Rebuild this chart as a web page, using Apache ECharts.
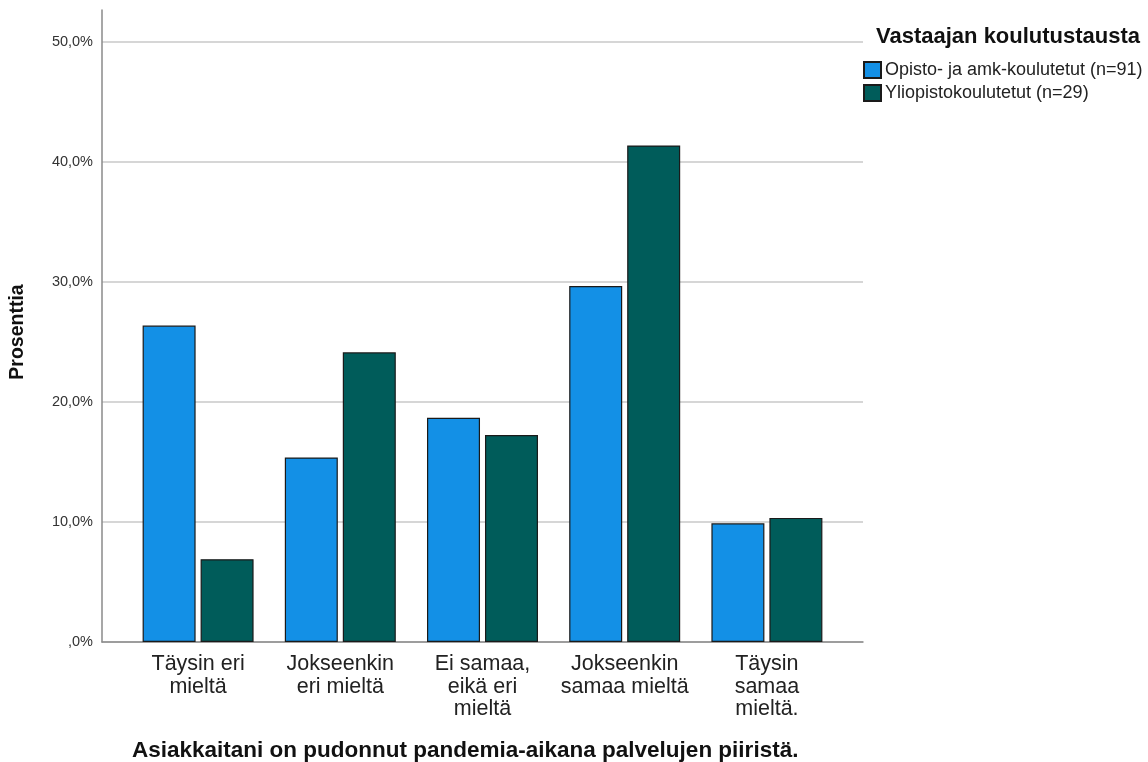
<!DOCTYPE html>
<html>
<head>
<meta charset="utf-8">
<script src="https://cdn.jsdelivr.net/npm/echarts@6/dist/echarts.min.js"></script>
<style>
html,body{margin:0;padding:0;background:#fff;}
#chart{width:1148px;height:762px;}
</style>
</head>
<body>
<div id="chart"></div>
<script>
const categories = ["Täysin eri\nmieltä", "Jokseenkin\neri mieltä", "Ei samaa,\neikä eri\nmieltä", "Jokseenkin\nsamaa mieltä", "Täysin\nsamaa\nmieltä."];
const seriesNames = ["Opisto- ja amk-koulutetut (n=91)", "Yliopistokoulutetut (n=29)"];
const opistoValues = [26.37, 15.38, 18.68, 29.67, 9.89];
const yliopistoValues = [6.90, 24.14, 17.24, 41.38, 10.34];
const yTicks = [0, 10, 20, 30, 40, 50];
const legendTitle = "Vastaajan koulutustausta";
const xTitle = "Asiakkaitani on pudonnut pandemia-aikana palvelujen piiristä.";
const yTitle = "Prosenttia";

const FONT = "'Liberation Sans', Arial, sans-serif";
const Y_MAX = 632 / 12;

function fmt(v) {
  if (v === 0) return ",0%";
  return v.toFixed(1).replace(".", ",") + "%";
}

const chart = echarts.init(document.getElementById('chart'), null, {renderer: 'canvas'});
chart.setOption({
  animation: false,
  backgroundColor: '#ffffff',
  textStyle: {fontFamily: FONT},
  title: [
    {text: legendTitle, left: 871, top: 21,
     textStyle: {fontFamily: FONT, fontSize: 22, fontWeight: 'bold', color: '#111'}},
    {text: xTitle, left: 127, top: 734,
     textStyle: {fontFamily: FONT, fontSize: 22.5, fontWeight: 'bold', color: '#111'}}
  ],
  graphic: [{
    type: 'text', x: 18, y: 332, rotation: Math.PI / 2,
    style: {text: yTitle, font: "bold 19.5px " + FONT, fill: '#111', align: 'center', verticalAlign: 'middle'}
  }],
  legend: {
    orient: 'vertical', left: 858, top: 56, itemWidth: 17, itemHeight: 16, itemGap: 5,
    icon: 'rect', data: seriesNames,
    textStyle: {fontFamily: FONT, fontSize: 18, color: '#222', padding: [0, 0, 0, -1]}
  },
  grid: [
    {left: 102, right: 285, top: 10, bottom: 120},
    {left: 127, width: 711, top: 10, bottom: 120}
  ],
  xAxis: [
    {type: 'value', gridIndex: 0, min: 0, max: 1, axisLabel: {show: false}, axisTick: {show: false},
     splitLine: {show: false}, axisLine: {show: true, lineStyle: {color: '#8a8a8a', width: 1.5}}},
    {type: 'category', gridIndex: 1, data: categories,
     axisLine: {show: false}, axisTick: {show: false},
     axisLabel: {fontFamily: FONT, fontSize: 21.5, lineHeight: 22.5, color: '#222', margin: 11, interval: 0}}
  ],
  yAxis: [
    {type: 'value', gridIndex: 0, min: 0, max: Y_MAX, interval: 10,
     axisLine: {show: true, lineStyle: {color: '#8a8a8a', width: 1.5}},
     axisTick: {show: false},
     axisLabel: {fontFamily: FONT, fontSize: 14.5, color: '#333', margin: 9,
       formatter: function (v) { return yTicks.indexOf(Math.round(v * 1000) / 1000) >= 0 ? fmt(v) : ''; }},
     splitLine: {show: true, lineStyle: {color: ['#c8c8c8', '#c8c8c8', '#c8c8c8', '#c8c8c8', '#c8c8c8', '#c8c8c8', 'rgba(0,0,0,0)'], width: 1.5}}},
    {type: 'value', gridIndex: 1, min: 0, max: Y_MAX, interval: 10, show: false}
  ],
  series: [
    {name: seriesNames[0], type: 'bar', xAxisIndex: 1, yAxisIndex: 1, data: opistoValues,
     barWidth: 53, barGap: '9.4%',
     itemStyle: {color: '#1390e6', borderColor: '#1a1a1a', borderWidth: 1.2}},
    {name: seriesNames[1], type: 'bar', xAxisIndex: 1, yAxisIndex: 1, data: yliopistoValues,
     barWidth: 53, barGap: '9.4%',
     itemStyle: {color: '#005c5a', borderColor: '#1a1a1a', borderWidth: 1.2}}
  ]
});
</script>
</body>
</html>
